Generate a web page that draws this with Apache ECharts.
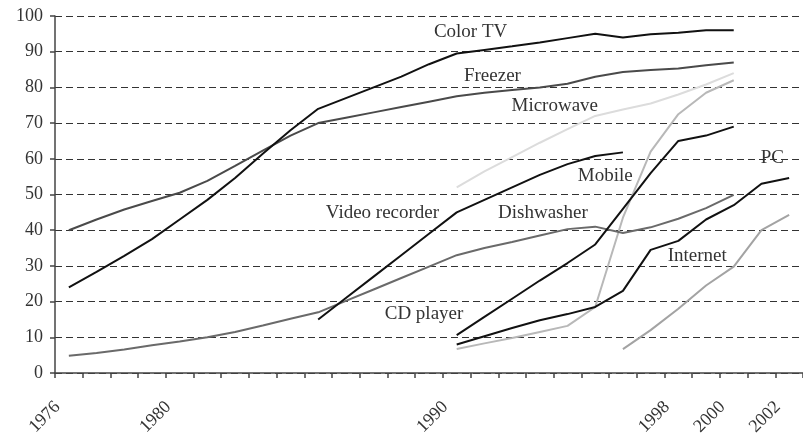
<!DOCTYPE html>
<html>
<head>
<meta charset="utf-8">
<script src="https://cdn.jsdelivr.net/npm/echarts@6/dist/echarts.min.js"></script>
<style>
html,body{margin:0;padding:0;background:#fff;}
#chart{width:803px;height:441px;}
</style>
</head>
<body>
<div id="chart"></div>
<script>
// ---- data ----
const years = ['1976','1977','1978','1979','1980','1981','1982','1983','1984','1985','1986','1987','1988','1989','1990','1991','1992','1993','1994','1995','1996','1997','1998','1999','2000','2001','2002'];
const shownYearLabels = ['1976','1980','1990','1998','2000','2002'];
const yTicks = [0,10,20,30,40,50,60,70,80,90,100];

const colorTV = [24,28.3,32.8,37.5,43,48.5,54.6,61.4,68,74,77,80,83,86.5,89.5,90.5,91.5,92.6,93.8,95,94,94.9,95.3,96,96,null,null];
const freezer = [40,43,45.8,48.2,50.5,53.8,58,62.3,66.5,70,71.5,73,74.5,76,77.5,78.5,79.3,80,81,83,84.3,84.9,85.3,86.2,87,null,null];
const dishwasher = [4.8,5.6,6.6,7.8,8.8,10,11.5,13.3,15.2,17,20.2,23.4,26.6,29.8,33,35,36.7,38.5,40.3,41,39.2,40.8,43.2,46.2,49.9,null,null];
const microwave = [null,null,null,null,null,null,null,null,null,null,null,null,null,null,52,56.5,60.5,64.5,68.3,72,73.8,75.5,78,80.8,84,null,null];
const mobile = [null,null,null,null,null,null,null,null,null,null,null,null,null,null,6.7,8.3,9.8,11.5,13.2,18.5,43.5,62,72.5,78.5,82,null,null];
const videoRecorder = [null,null,null,null,null,null,null,null,null,15,21,27,33,39,45,48.5,52,55.5,58.5,60.8,61.8,null,null,null,null,null,null];
const cdPlayer = [null,null,null,null,null,null,null,null,null,null,null,null,null,null,10.6,15.7,20.8,25.9,30.8,36,46,56,65,66.5,69,null,null];
const pc = [null,null,null,null,null,null,null,null,null,null,null,null,null,null,8,10.3,12.6,14.8,16.5,18.5,23,34.5,37,43,47,53,54.6];
const internet = [null,null,null,null,null,null,null,null,null,null,null,null,null,null,null,null,null,null,null,null,6.7,12,18,24.5,29.8,40,44.3];

// annotation texts anchored in data space (fractional year, value)
const annotationTexts = ['Color TV','Freezer','Microwave','Mobile','Video recorder','Dishwasher','PC','Internet','CD player'];
const annotationYears = [1990.5,1991.29,1993.54,1995.36,1987.32,1993.11,2001.39,1998.68,1988.82];
const annotationValues = [95.5,83.2,74.8,55.2,44.8,44.8,60.2,32.8,16.5];

// ---- chart ----
const SERIF = "'Liberation Serif','DejaVu Serif',serif";
const chart = echarts.init(document.getElementById('chart'), null, {renderer:'canvas'});

function mk(name, data, color, width, z){
  return {name, type:'line', data, showSymbol:false, symbol:'none', connectNulls:false,
    lineStyle:{color, width}, itemStyle:{color}, z, animation:false};
}

const option = {
  animation:false,
  backgroundColor:'#fff',
  grid:{left:55, right:-8, top:16, bottom:68, containLabel:false},
  xAxis:{
    type:'category', data:years, boundaryGap:true,
    axisLine:{show:true, lineStyle:{color:'#444', width:1.5}},
    axisTick:{show:true, length:5, inside:false, lineStyle:{color:'#444', width:1.5}},
    axisLabel:{
      interval:0, rotate:45, margin:20,
      padding:[0,16,0,0],
      fontFamily:SERIF, fontSize:18, color:'#333',
      formatter:(v)=> shownYearLabels.indexOf(v) >= 0 ? v : ''
    },
    splitLine:{show:false}
  },
  yAxis:{
    type:'value', min:yTicks[0], max:yTicks[yTicks.length-1], interval:10,
    axisLine:{show:true, lineStyle:{color:'#444', width:1.5}},
    axisTick:{show:true, length:5, inside:false, lineStyle:{color:'#444', width:1.5}},
    axisLabel:{margin:12, fontFamily:SERIF, fontSize:18, color:'#333'},
    splitLine:{show:true, lineStyle:{color:'#333', width:1.2, type:[7,4]}}
  },
  series:[
    mk('Microwave', microwave, '#dcdcdc', 2, 2),
    mk('Mobile', mobile, '#b8b8b8', 2, 3),
    mk('Internet', internet, '#a3a3a3', 2, 3),
    mk('Dishwasher', dishwasher, '#6a6a6a', 2, 4),
    mk('Freezer', freezer, '#4a4a4a', 2, 4),
    mk('Color TV', colorTV, '#111', 2, 5),
    mk('Video recorder', videoRecorder, '#111', 2, 5),
    mk('CD player', cdPlayer, '#111', 2, 5),
    mk('PC', pc, '#111', 2, 5)
  ]
};
chart.setOption(option);

// place annotation texts using the axes' own scales
function toPixel(year, value){
  const idx = year - Number(years[0]);
  const i0 = Math.floor(idx), f = idx - i0;
  const p0 = chart.convertToPixel({xAxisIndex:0, yAxisIndex:0}, [i0, value]);
  const p1 = chart.convertToPixel({xAxisIndex:0, yAxisIndex:0}, [i0+1, value]);
  return [p0[0] + f*(p1[0]-p0[0]), p0[1]];
}
const graphics = annotationTexts.map((t,k)=>{
  const p = toPixel(annotationYears[k], annotationValues[k]);
  return {type:'text', x:p[0], y:p[1], z:100,
    style:{text:t, fill:'#333', font:"19px " + SERIF, textAlign:'center', textVerticalAlign:'middle'}};
});
chart.setOption({graphic:graphics});
</script>
</body>
</html>
